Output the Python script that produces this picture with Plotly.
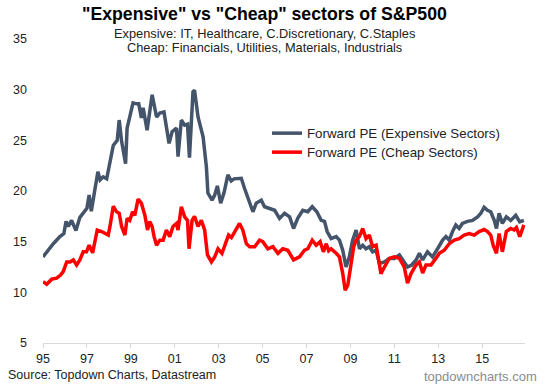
import plotly.graph_objects as go

# Expensive sectors forward PE (decimal year, value)
exp_years = [1995.00, 1995.17, 1995.47, 1995.77, 1995.95, 1996.05, 1996.15, 1996.30, 1996.50, 1996.68,
             1996.90, 1997.00, 1997.10, 1997.20, 1997.36, 1997.50, 1997.60, 1997.74, 1997.90, 1998.05,
             1998.20, 1998.38, 1998.47, 1998.58, 1998.76, 1998.83, 1998.99, 1999.10, 1999.26, 1999.36,
             1999.48, 1999.56, 1999.74, 1999.97, 2000.17, 2000.32, 2000.51, 2000.74, 2000.88, 2001.08,
             2001.15, 2001.30, 2001.45, 2001.58, 2001.67, 2001.83, 2001.90, 2002.06, 2002.29, 2002.44,
             2002.51, 2002.70, 2002.82, 2002.94, 2003.09, 2003.24, 2003.42, 2003.57, 2003.70, 2004.03,
             2004.18, 2004.38, 2004.56, 2004.71, 2004.94, 2005.09, 2005.32, 2005.55, 2005.77, 2006.00,
             2006.23, 2006.41, 2006.60, 2006.83, 2007.06, 2007.26, 2007.47, 2007.67, 2007.82, 2007.94,
             2008.12, 2008.35, 2008.50, 2008.65, 2008.80, 2008.95, 2009.10, 2009.26, 2009.41, 2009.56,
             2009.71, 2009.86, 2010.01, 2010.17, 2010.32, 2010.55, 2010.77, 2011.00, 2011.23, 2011.38,
             2011.60, 2011.79, 2011.99, 2012.14, 2012.29, 2012.51, 2012.74, 2012.97, 2013.20, 2013.35,
             2013.50, 2013.65, 2013.80, 2013.95, 2014.10, 2014.33, 2014.56, 2014.79, 2014.94, 2015.09,
             2015.24, 2015.39, 2015.55, 2015.65, 2015.77, 2015.92, 2016.10, 2016.30, 2016.53, 2016.71,
             2016.90]
exp_pe = [13.5, 14.0, 14.8, 15.5, 15.8, 17.0, 16.5, 17.1, 16.1, 17.4,
          18.1, 18.3, 19.6, 18.0, 20.1, 21.9, 21.1, 21.4, 21.2, 23.0,
          24.5, 25.0, 27.0, 24.9, 22.7, 26.2, 27.7, 28.7, 28.6, 28.6,
          27.2, 28.2, 26.0, 29.5, 27.3, 27.7, 27.8, 24.7, 25.85, 26.2,
          23.4, 27.0, 26.5, 26.6, 23.3, 29.8, 29.95, 27.3, 25.35, 22.4,
          19.8, 19.1, 19.6, 20.5, 18.8, 19.8, 21.6, 21.0, 21.2, 21.25,
          20.25, 19.1, 17.95, 18.8, 19.1, 18.45, 18.3, 18.1, 17.3, 17.8,
          17.45, 16.3, 17.3, 18.1, 17.95, 18.45, 17.95, 17.1, 17.0, 16.0,
          15.3, 15.5, 15.15, 14.15, 12.5, 13.5, 15.15, 16.15, 14.3, 14.65,
          14.3, 14.5, 14.0, 14.15, 12.85, 13.0, 13.35, 13.35, 13.7, 13.2,
          12.5, 12.7, 13.2, 13.85, 13.2, 14.0, 13.5, 14.3, 15.15, 15.5,
          15.15, 16.0, 16.65, 16.3, 16.8, 17.0, 17.1, 17.45, 17.8, 18.4,
          18.1, 17.95, 17.1, 16.3, 17.8, 16.8, 17.45, 17.1, 17.6, 16.95,
          17.1]

# Cheap sectors forward PE (decimal year, value)
cheap_years = [1995.00, 1995.17, 1995.40, 1995.62, 1995.80, 1995.92, 1996.08, 1996.23, 1996.38, 1996.53,
               1996.68, 1996.83, 1996.98, 1997.10, 1997.26, 1997.36, 1997.47, 1997.67, 1997.82, 1997.97,
               1998.05, 1998.20, 1998.35, 1998.47, 1998.58, 1998.73, 1998.83, 1998.95, 1999.08, 1999.18,
               1999.33, 1999.48, 1999.64, 1999.76, 1999.86, 1999.97, 2000.06, 2000.17, 2000.32, 2000.47,
               2000.62, 2000.77, 2000.92, 2001.08, 2001.15, 2001.30, 2001.45, 2001.58, 2001.65, 2001.79,
               2001.90, 2002.06, 2002.21, 2002.36, 2002.49, 2002.67, 2002.82, 2002.97, 2003.15, 2003.30,
               2003.45, 2003.58, 2003.73, 2003.95, 2004.10, 2004.26, 2004.41, 2004.64, 2004.86, 2005.01,
               2005.24, 2005.47, 2005.70, 2005.92, 2006.15, 2006.41, 2006.68, 2006.91, 2007.06, 2007.26,
               2007.44, 2007.62, 2007.77, 2007.90, 2008.01, 2008.12, 2008.35, 2008.50, 2008.65, 2008.76,
               2008.88, 2009.03, 2009.15, 2009.26, 2009.41, 2009.56, 2009.71, 2009.86, 2010.01, 2010.17,
               2010.32, 2010.39, 2010.55, 2010.77, 2011.00, 2011.23, 2011.45, 2011.60, 2011.76, 2011.99,
               2012.14, 2012.29, 2012.44, 2012.67, 2012.89, 2013.05, 2013.27, 2013.50, 2013.73, 2013.95,
               2014.18, 2014.41, 2014.64, 2014.86, 2015.09, 2015.24, 2015.39, 2015.50, 2015.65, 2015.77,
               2015.92, 2016.10, 2016.30, 2016.45, 2016.56, 2016.71, 2016.90]
cheap_pe = [11.05, 10.8, 11.3, 11.4, 11.7, 12.05, 13.0, 13.0, 13.2, 12.7,
            13.2, 14.0, 14.0, 14.65, 13.9, 15.15, 16.15, 16.0, 15.8, 15.65,
            16.5, 18.5, 17.95, 17.8, 16.5, 15.65, 17.3, 17.1, 17.95, 17.6,
            19.2, 18.8, 17.6, 16.15, 17.0, 16.5, 15.5, 14.65, 15.15, 15.15,
            16.15, 15.5, 16.5, 16.8, 16.15, 18.45, 17.45, 17.1, 14.3, 17.1,
            17.5, 16.5, 17.1, 16.15, 13.7, 13.0, 13.5, 14.3, 13.85, 14.8,
            15.65, 15.4, 16.0, 16.8, 16.15, 14.8, 14.5, 14.5, 15.15, 15.0,
            14.3, 14.5, 13.85, 14.3, 14.15, 13.2, 13.5, 14.15, 14.3, 15.15,
            14.65, 15.0, 14.0, 14.8, 14.1, 14.3, 13.85, 13.5, 11.85, 10.2,
            10.7, 12.85, 14.5, 15.15, 15.5, 16.3, 15.3, 15.65, 14.5, 14.65,
            12.85, 11.85, 12.5, 13.35, 13.5, 13.35, 12.5, 10.9, 11.85, 12.7,
            13.0, 11.9, 12.7, 12.7, 13.35, 13.85, 14.15, 14.8, 15.15, 15.3,
            15.65, 15.8, 15.65, 16.0, 16.2, 16.0, 15.65, 14.65, 13.85, 15.8,
            14.0, 16.0, 16.3, 16.15, 16.4, 15.5, 16.65]

tick_vals = [1995, 1997, 1999, 2001, 2003, 2005, 2007, 2009, 2011, 2013, 2015]
tick_text = ["95", "97", "99", "01", "03", "05", "07", "09", "11", "13", "15"]

title_text = '"Expensive" vs "Cheap" sectors of S&P500'
subtitle_1 = "Expensive: IT, Healthcare, C.Discretionary, C.Staples"
subtitle_2 = "Cheap: Financials, Utilities, Materials, Industrials"
series_names = ["Forward PE (Expensive Sectors)", "Forward PE (Cheap Sectors)"]
source_text = "Source: Topdown Charts, Datastream"
brand_text = "topdowncharts.com"

FONT = "Arial, Liberation Sans, sans-serif"
DARK = "#44546A"
RED = "#FF0000"

fig = go.Figure()
fig.add_trace(go.Scatter(x=exp_years, y=exp_pe, mode="lines", name=series_names[0], legend="legend",
                         line=dict(color=DARK, width=3.5)))
fig.add_trace(go.Scatter(x=cheap_years, y=cheap_pe, mode="lines", name=series_names[1], legend="legend2",
                         line=dict(color=RED, width=3.5)))

W, H = 547, 384
L, R, T, B = 43, 22, 39, 41
pw = W - L - R
ph = H - T - B

def px_to_paper_x(px):
    return (px - L) / pw

def px_to_paper_y(py):
    return (H - B - py) / ph

def legend_at(top_px):
    return dict(x=px_to_paper_x(267), y=px_to_paper_y(top_px), xanchor="left", yanchor="top",
                bgcolor="rgba(0,0,0,0)", font=dict(family=FONT, size=13.3, color="#222222"),
                itemwidth=30)

fig.update_layout(
    width=W, height=H,
    margin=dict(l=L, r=R, t=T, b=B, pad=0),
    paper_bgcolor="white", plot_bgcolor="white",
    font=dict(family=FONT, size=12, color="#222222"),
    showlegend=True,
    legend=legend_at(118),
    legend2=legend_at(137),
    xaxis=dict(range=[1995, 2016.95], tickvals=tick_vals, ticktext=tick_text,
               showgrid=False, zeroline=False, showline=True, linecolor="#D9D9D9", linewidth=1,
               ticks="outside", ticklen=4, tickcolor="#D9D9D9", tickfont=dict(size=12.5, color="#222222")),
    yaxis=dict(range=[5, 35], dtick=5, tick0=5, showgrid=False, zeroline=False, showline=False,
               ticks="", ticklabelstandoff=15, tickfont=dict(size=12.5, color="#222222")),
)

annots = [
    dict(text="<b>" + title_text + "</b>", y=14, size=17.7, color="#000000"),
    dict(text=subtitle_1, y=33, size=12.8, color="#222222"),
    dict(text=subtitle_2, y=48, size=12.8, color="#222222"),
]
for a in annots:
    fig.add_annotation(text=a["text"], xref="paper", yref="paper",
                       x=px_to_paper_x(264), y=px_to_paper_y(a["y"]),
                       xanchor="center", yanchor="middle", showarrow=False,
                       font=dict(family=FONT, size=a["size"], color=a["color"]))

fig.add_annotation(text=source_text, xref="paper", yref="paper",
                   x=px_to_paper_x(6), y=px_to_paper_y(375), xanchor="left", yanchor="middle",
                   showarrow=False, font=dict(family=FONT, size=12.5, color="#222222"))
fig.add_annotation(text=brand_text, xref="paper", yref="paper",
                   x=px_to_paper_x(539), y=px_to_paper_y(376), xanchor="right", yanchor="middle",
                   showarrow=False, font=dict(family=FONT, size=13, color="#8C8C8C"))

fig.write_html("out.html", config={"displayModeBar": False},
               post_script="document.body.style.margin='0';")
